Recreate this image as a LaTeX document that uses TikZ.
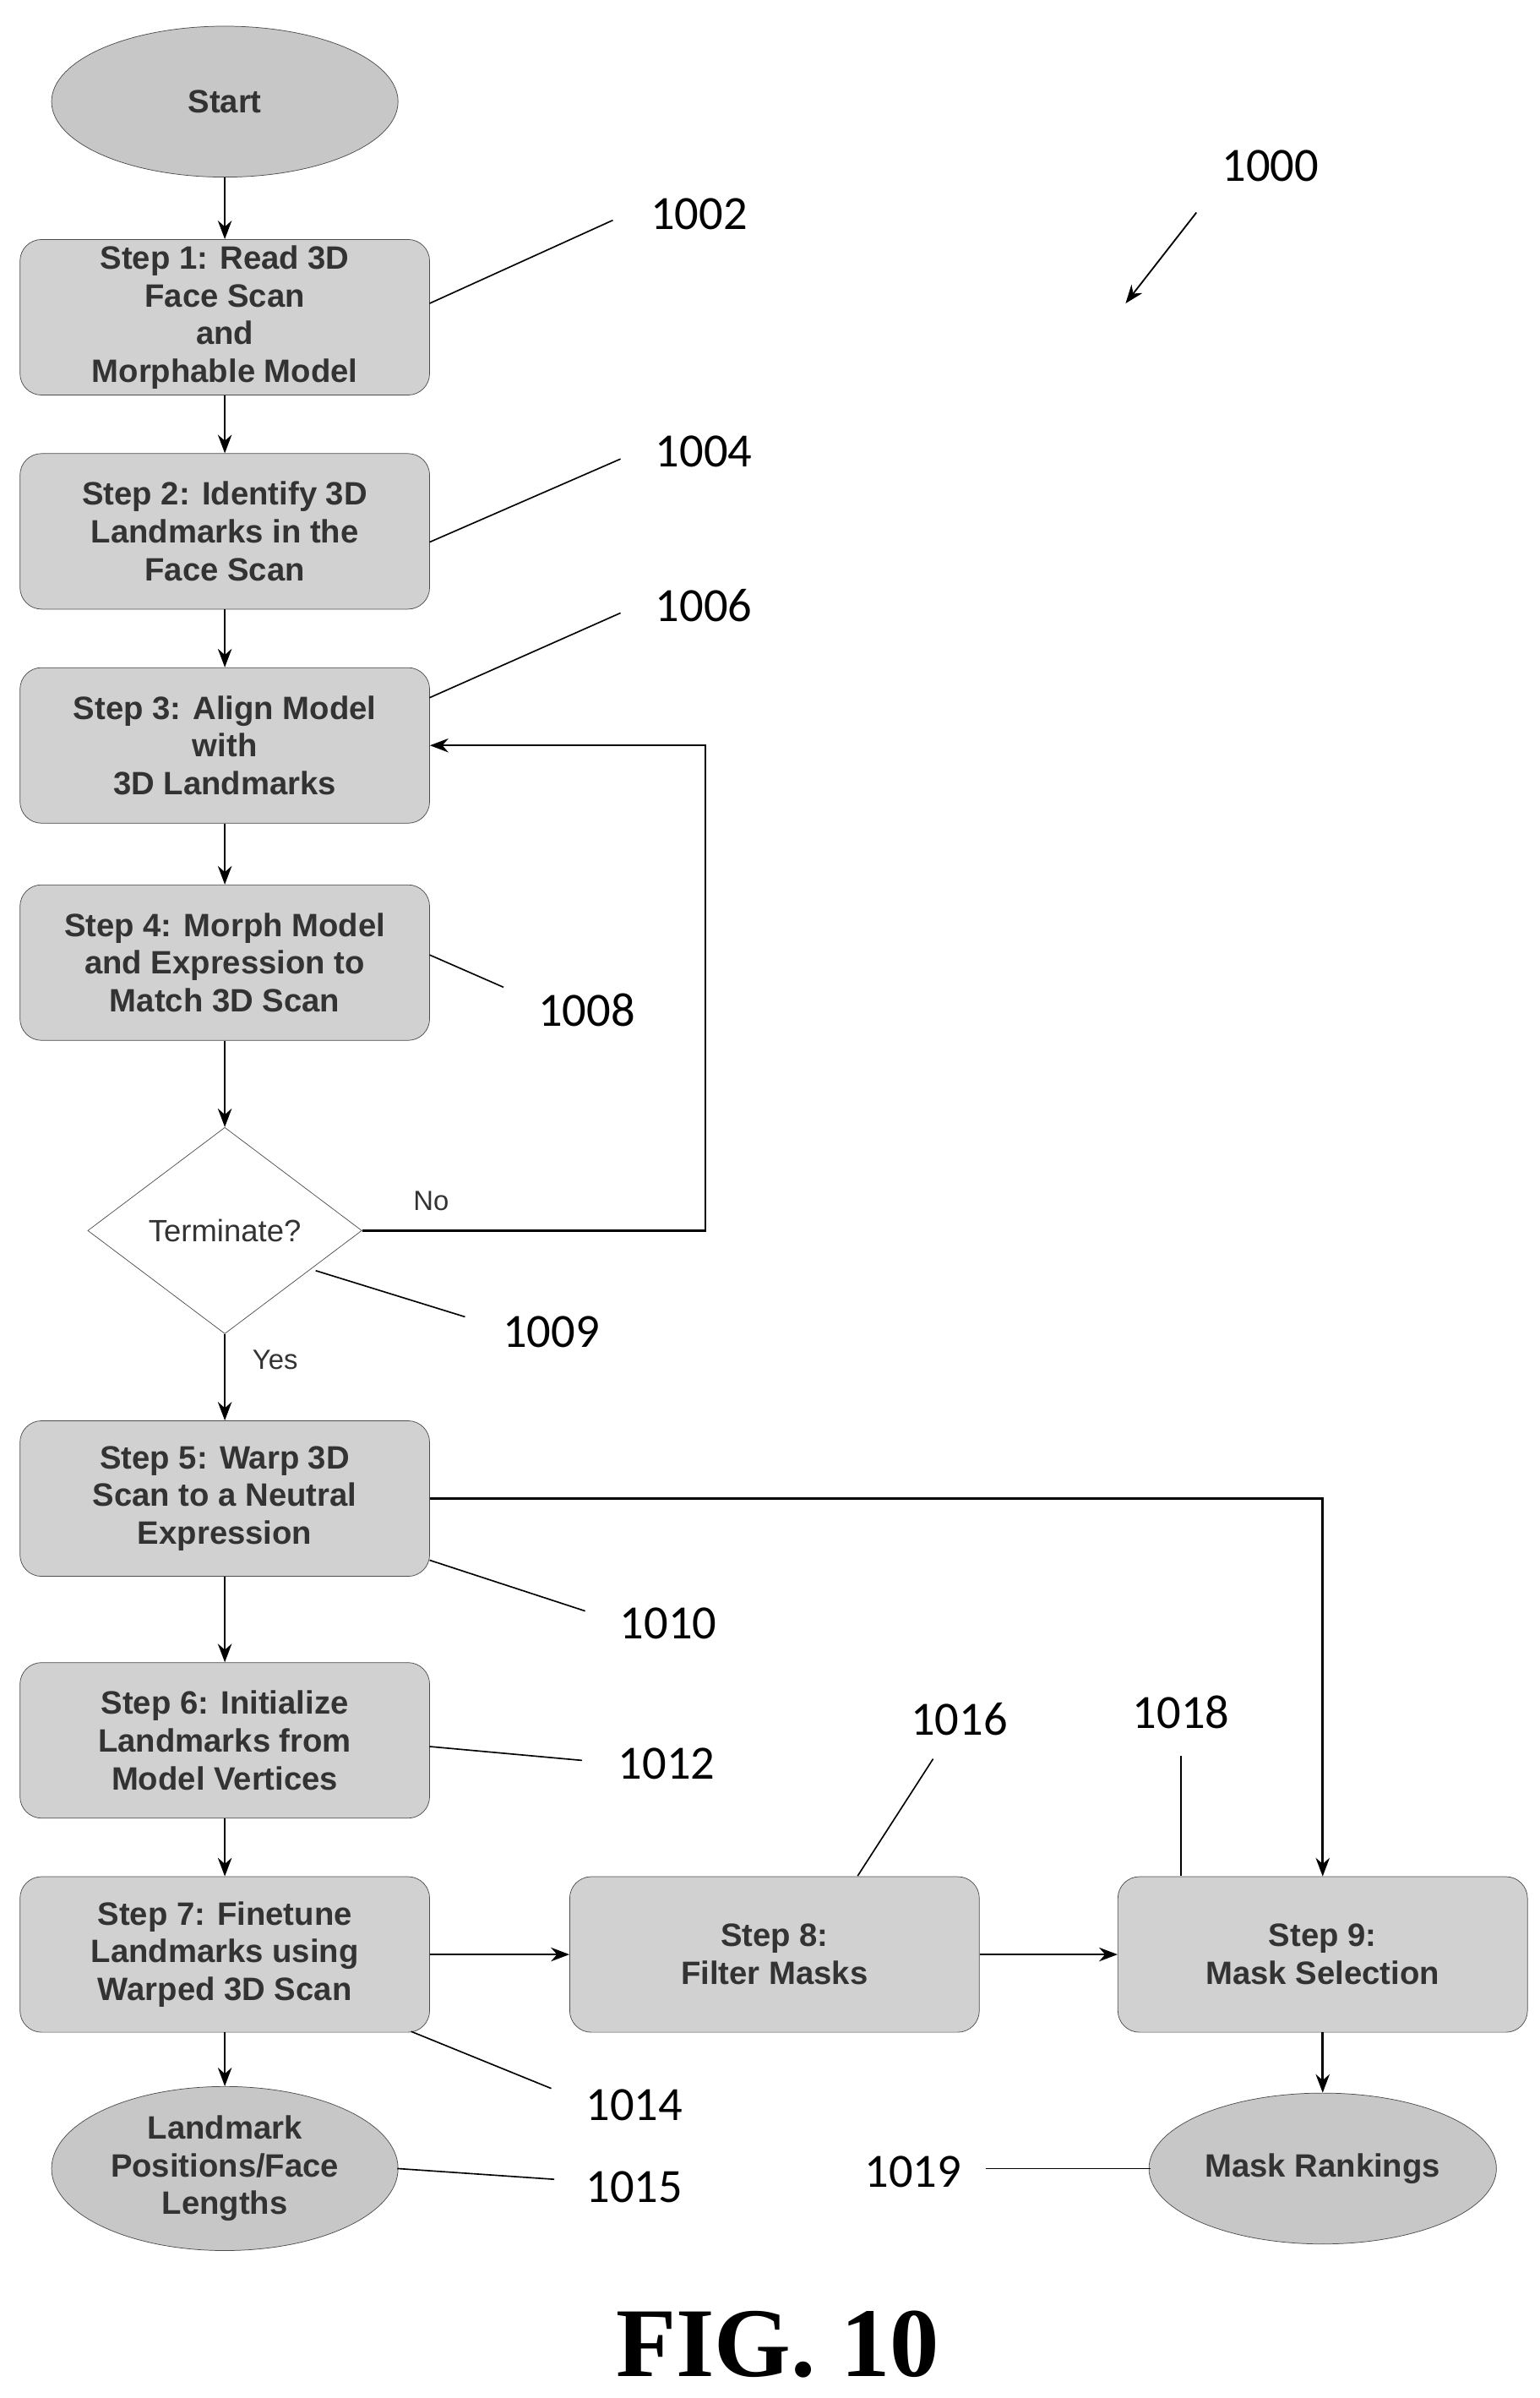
\documentclass[tikz,border=0pt]{standalone}
\usepackage{fontspec}
\setmainfont{Liberation Sans}
\newfontfamily\numfont{Carlito}
\newfontfamily\figfont{Liberation Serif}
\usetikzlibrary{shapes.geometric,arrows.meta}
\begin{document}
\begin{tikzpicture}[x=1pt,y=-1pt,
 box/.style={draw=black!70,rounded corners=14pt,fill=black!18,minimum width=266pt,minimum height=101pt,align=center,font=\fontsize{21}{24.5}\selectfont\bfseries,text=black!80},
 term/.style={ellipse,draw=black!70,fill=black!22,minimum width=225pt,minimum height=98pt,align=center,font=\fontsize{21}{24.5}\selectfont\bfseries,text=black!80},
 arr/.style={-{Stealth[length=12pt,width=9pt]},line width=1.4pt},
 ln/.style={line width=0.9pt},
 num/.style={font=\numfont\fontsize{31}{31}\selectfont},
 lab/.style={font=\fontsize{18}{18}\selectfont,text=black!80}]
\useasboundingbox (0,0) rectangle (1000,1557);
\node[term] (start) at (146,66) {Start};
\node[box] (s1) at (146,206) {Step 1: Read 3D\\Face Scan\\and\\Morphable Model};
\node[box] (s2) at (146,345) {Step 2: Identify 3D\\Landmarks in the\\Face Scan};
\node[box] (s3) at (146,484) {Step 3: Align Model\\with\\3D Landmarks};
\node[box] (s4) at (146,625) {Step 4: Morph Model\\and Expression to\\Match 3D Scan};
\node[diamond,draw=black!70,minimum width=178pt,minimum height=134pt,inner sep=0pt,font=\fontsize{20}{24}\selectfont,text=black!80] (d) at (146,799) {Terminate?};
\node[box] (s5) at (146,973) {Step 5: Warp 3D\\Scan to a Neutral\\Expression};
\node[box] (s6) at (146,1130) {Step 6: Initialize\\Landmarks from\\Model Vertices};
\node[box] (s7) at (146,1269) {Step 7: Finetune\\Landmarks using\\Warped 3D Scan};
\node[box] (s8) at (503,1269) {Step 8:\\Filter Masks};
\node[box] (s9) at (859,1269) {Step 9:\\Mask Selection};
\node[term] (e1) at (146,1408) {Landmark\\Positions/Face\\Lengths};
\node[term] (e2) at (859,1408) {Mask Rankings};
\draw[arr] (start) -- (s1);
\draw[arr] (s1) -- (s2);
\draw[arr] (s2) -- (s3);
\draw[arr] (s3) -- (s4);
\draw[arr] (s4) -- (d);
\draw[arr] (d) -- node[lab,right,pos=0.3,xshift=14pt]{Yes} (s5);
\draw[arr] (s5) -- (s6);
\draw[arr] (s6) -- (s7);
\draw[arr] (s7) -- (e1);
\draw[arr] (s7) -- (s8);
\draw[arr] (s8) -- (s9);
\draw[arr] (s9) -- (e2);
\draw[arr] (d.east) -- (458,799) -- (458,484) -- (s3.east);
\node[lab] (no) at (280,780) {No};
\draw[arr] (s5.east) -- (859,973) -- (s9.north);
\node[num] (n1000) at (825,108) {1000};
\coordinate (a0) at (777,138);
\coordinate (a1) at (731,197);
\draw[arr,line width=1pt] (a0) -- (a1);
\node[num] (n1002) at (454,139) {1002}; \draw[ln] (279,197) -- (398,143);
\node[num] (n1004) at (457,293) {1004}; \draw[ln] (279,352) -- (403,298);
\node[num] (n1006) at (457,393) {1006}; \draw[ln] (279,453) -- (403,398);
\node[num] (n1008) at (381,656) {1008}; \draw[ln] (279,620) -- (327,641);
\node[num] (n1009) at (358,865) {1009}; \draw[ln] (205,825) -- (302,855);
\node[num] (n1010) at (434,1054) {1010}; \draw[ln] (279,1013) -- (380,1046);
\node[num] (n1012) at (433,1145) {1012}; \draw[ln] (279,1134) -- (378,1143);
\node[num] (n1014) at (412,1367) {1014}; \draw[ln] (267,1319) -- (358,1356);
\node[num] (n1015) at (412,1420) {1015}; \draw[ln] (258,1408) -- (360,1415);
\node[num] (n1016) at (623,1116) {1016}; \draw[ln] (557,1218) -- (606,1142);
\node[num] (n1018) at (767,1112) {1018}; \draw[ln] (767,1218) -- (767,1140);
\node[num] (n1019) at (593,1410) {1019}; \draw[ln] (640,1408) -- (747,1408);
\node[font=\figfont\bfseries\fontsize{64}{64}\selectfont] (fig) at (505,1522) {FIG. 10};
\end{tikzpicture}
\end{document}
